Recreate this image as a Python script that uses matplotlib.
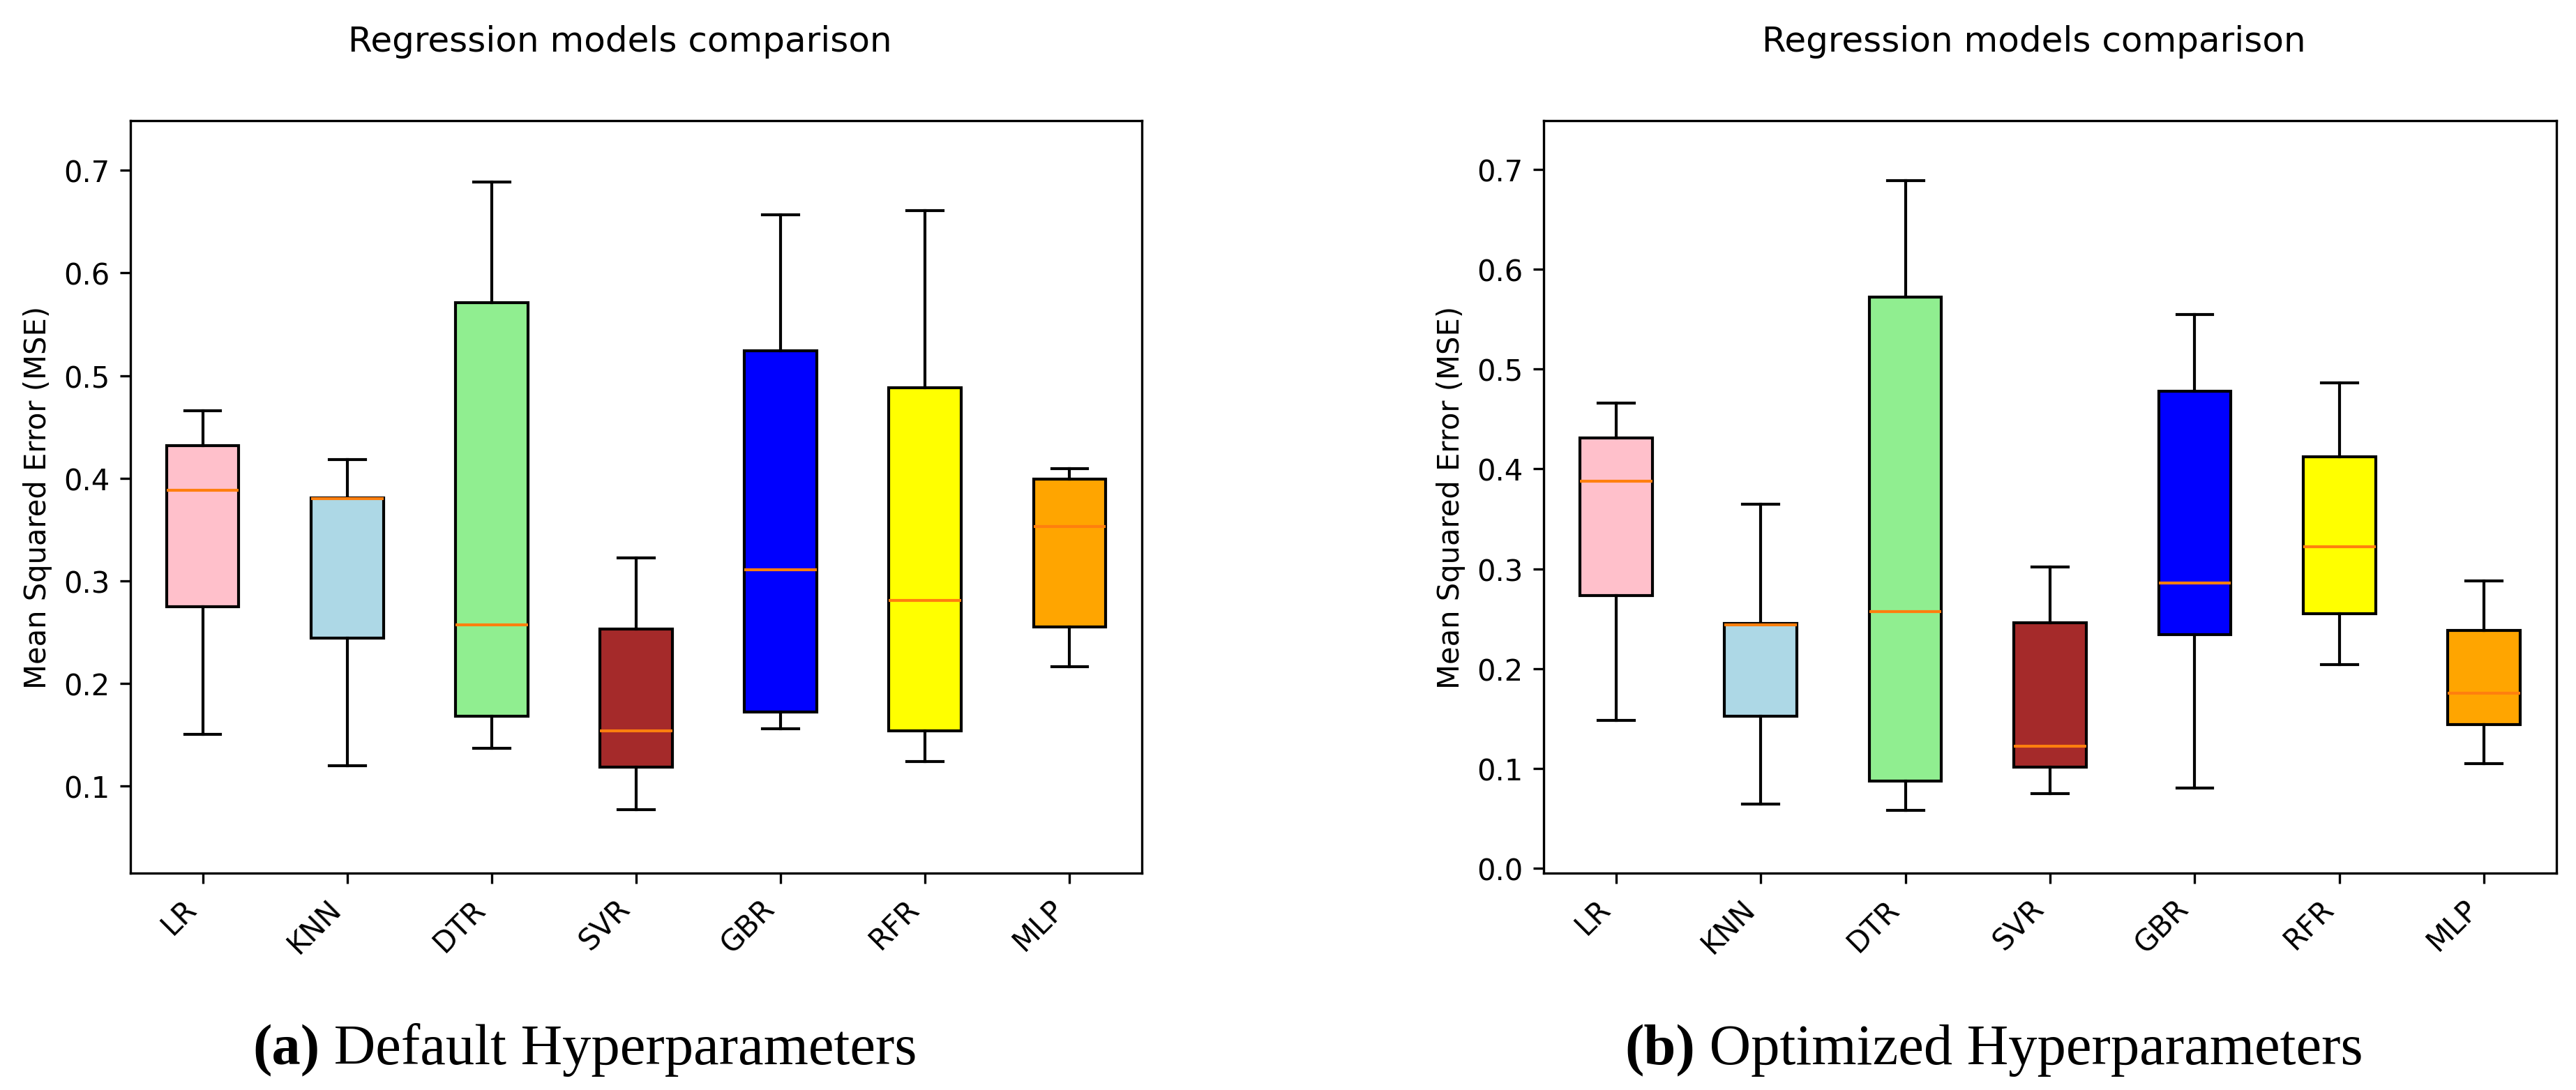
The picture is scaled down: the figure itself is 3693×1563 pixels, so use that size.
import matplotlib
matplotlib.use("Agg")
import matplotlib.pyplot as plt

# models and box colours
models = ['LR', 'KNN', 'DTR', 'SVR', 'GBR', 'RFR', 'MLP']
box_colors = ['pink', 'lightblue', 'lightgreen', 'brown', 'blue', 'yellow', 'orange']

# (a) default hyperparameters - box stats
default_whislo = [0.150, 0.120, 0.137, 0.077, 0.156, 0.124, 0.216]
default_q1 = [0.275, 0.244, 0.168, 0.118, 0.172, 0.154, 0.255]
default_med = [0.388, 0.380, 0.257, 0.154, 0.311, 0.281, 0.353]
default_q3 = [0.432, 0.381, 0.571, 0.253, 0.524, 0.488, 0.399]
default_whishi = [0.466, 0.418, 0.689, 0.322, 0.657, 0.661, 0.409]

# (b) optimized hyperparameters
opt_whislo = [0.148, 0.064, 0.058, 0.075, 0.080, 0.204, 0.105]
opt_q1 = [0.273, 0.152, 0.087, 0.101, 0.234, 0.255, 0.144]
opt_med = [0.388, 0.244, 0.257, 0.122, 0.286, 0.322, 0.175]
opt_q3 = [0.431, 0.245, 0.572, 0.246, 0.478, 0.412, 0.238]
opt_whishi = [0.466, 0.365, 0.689, 0.302, 0.555, 0.486, 0.288]


def make_stats(whislo, q1, med, q3, whishi):
    return [dict(label=m, whislo=a, q1=b, med=c, q3=d, whishi=e, fliers=[])
            for m, a, b, c, d, e in zip(models, whislo, q1, med, q3, whishi)]


def draw_panel(ax, stats, ylim):
    bp = ax.bxp(stats, patch_artist=True, showfliers=False)
    for patch, col in zip(bp['boxes'], box_colors):
        patch.set_facecolor(col)
    ax.set_title('Regression models comparison', pad=24, x=0.484)
    ax.set_ylabel('Mean Squared Error (MSE)')
    ax.set_ylim(*ylim)
    plt.setp(ax.get_xticklabels(), rotation=45, ha='right')


W, H = 3693, 1564
fig = plt.figure(figsize=(W / 300, H / 300), dpi=300)

ax1 = fig.add_axes([187 / W, 1 - 1253 / H, 1450 / W, 1079 / H])
ax2 = fig.add_axes([2213 / W, 1 - 1253 / H, 1452 / W, 1079 / H])

draw_panel(ax1, make_stats(default_whislo, default_q1, default_med, default_q3, default_whishi), (0.015, 0.7485))
draw_panel(ax2, make_stats(opt_whislo, opt_q1, opt_med, opt_q3, opt_whishi), (-0.005, 0.749))

# captions under each panel: bold letter, then plain text right after it
cap_font = dict(family='Liberation Serif', size=19.8)
for x0, letter, text in [(362 / W, '(a)', ' Default Hyperparameters'),
                         (2329 / W, '(b)', ' Optimized Hyperparameters')]:
    t = fig.text(x0, 1 - 1526 / H, letter, fontweight='bold', va='baseline', **cap_font)
    ax1.annotate(text, xy=(1, 0), xycoords=t, va='bottom', ha='left',
                 annotation_clip=False, **cap_font)

fig.savefig('out.png', dpi=300)
